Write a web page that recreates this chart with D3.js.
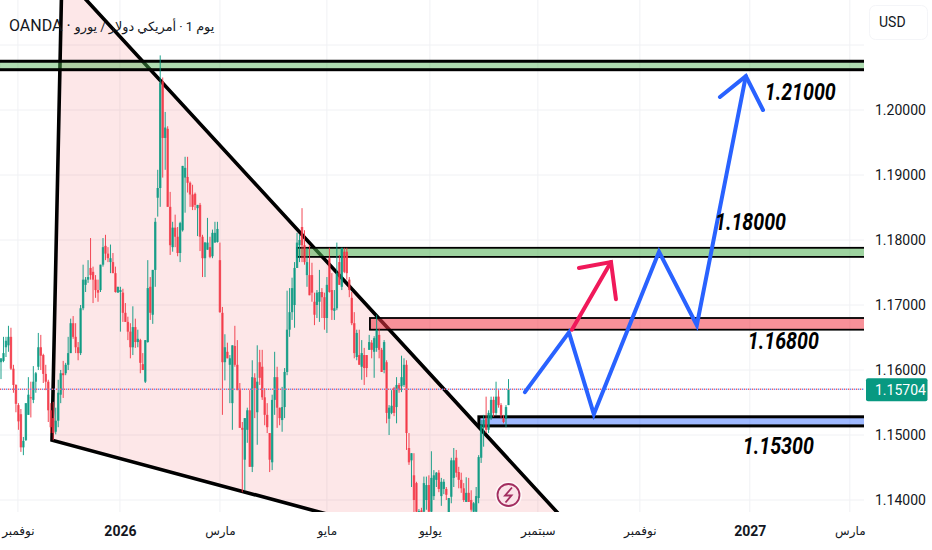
<!DOCTYPE html>
<html>
<head>
<meta charset="utf-8">
<script src="https://cdn.jsdelivr.net/npm/d3@7"></script>
<style>
body { margin: 0; background: #fff; }
text { font-family: Roboto, "DejaVu Sans", sans-serif; }
</style>
</head>
<body>
<svg id="chart" width="932" height="550"></svg>
<script>
// daily candles
let opens = [1.1612,1.1614,1.1635,1.1638,1.1651,1.1602,1.1577,1.1546,1.1532,1.1481,
1.1492,1.1531,1.1558,1.1554,1.1582,1.1605,1.1635,1.1623,1.1594,1.1582,
1.1538,1.1526,1.1505,1.1522,1.1562,1.1595,1.1595,1.1608,1.1626,1.1672,
1.1651,1.1635,1.1626,1.1695,1.1731,1.1739,1.1757,1.1751,1.1739,1.1723,
1.1723,1.1762,1.1791,1.1779,1.1766,1.1766,1.1749,1.1719,1.1720,1.1719,
1.1688,1.1674,1.1659,1.1635,1.1666,1.1643,1.1646,1.1609,1.1582,1.1643,
1.1728,1.1685,1.1754,1.1865,1.1880,1.2044,1.1957,1.1971,1.1851,1.1789,
1.1819,1.1805,1.1780,1.1815,1.1896,1.1897,1.1888,1.1870,1.1871,1.1849,
1.1854,1.1805,1.1772,1.1785,1.1789,1.1775,1.1796,1.1797,1.1769,1.1688,
1.1612,1.1628,1.1608,1.1549,1.1637,1.1608,1.1569,1.1511,1.1462,1.1508,
1.1538,1.1451,1.1588,1.1535,1.1612,1.1605,1.1558,1.1531,1.1503,1.1458,
1.1554,1.1589,1.1542,1.1523,1.1543,1.1597,1.1662,1.1689,1.1700,1.1757,
1.1792,1.1820,1.1792,1.1746,1.1746,1.1746,1.1705,1.1700,1.1705,1.1720,
1.1712,1.1680,1.1772,1.1723,1.1691,1.1695,1.1766,1.1728,1.1782,1.1782,
1.1739,1.1711,1.1672,1.1620,1.1623,1.1605,1.1623,1.1623,1.1631,1.1642,
1.1628,1.1634,1.1654,1.1631,1.1600,1.1612,1.1525,1.1534,1.1572,1.1543,
1.1577,1.1575,1.1577,1.1608,1.1480,1.1461,1.1438,1.1426,1.1380,1.1384,
1.1382,1.1400,1.1423,1.1382,1.1406,1.1431,1.1442,1.1406,1.1417,1.1417,
1.1377,1.1405,1.1434,1.1465,1.1443,1.1431,1.1418,1.1397,1.1411,1.1400,
1.1382,1.1382,1.1403,1.1465,1.1512,1.1526,1.1508,1.1526,1.1554,1.1534,
1.1559,1.1546,1.1526,1.1525,1.1546]
let highs = [1.1618,1.1651,1.1651,1.1668,1.1665,1.1608,1.1578,1.1549,1.1540,1.1497,
1.1549,1.1589,1.1582,1.1606,1.1597,1.1657,1.1654,1.1625,1.1608,1.1585,
1.1549,1.1551,1.1542,1.1585,1.1600,1.1614,1.1611,1.1651,1.1679,1.1683,
1.1672,1.1643,1.1700,1.1762,1.1743,1.1769,1.1803,1.1759,1.1746,1.1739,
1.1762,1.1803,1.1808,1.1789,1.1793,1.1780,1.1759,1.1728,1.1728,1.1725,
1.1703,1.1682,1.1672,1.1698,1.1679,1.1662,1.1648,1.1626,1.1646,1.1769,
1.1743,1.1754,1.1834,1.1908,1.2084,1.2050,1.1997,1.1975,1.1874,1.1828,
1.1839,1.1820,1.1828,1.1914,1.1928,1.1928,1.1890,1.1885,1.1873,1.1854,
1.1857,1.1808,1.1797,1.1834,1.1805,1.1816,1.1828,1.1828,1.1796,1.1697,
1.1655,1.1642,1.1623,1.1638,1.1668,1.1646,1.1580,1.1520,1.1526,1.1542,
1.1569,1.1615,1.1595,1.1638,1.1631,1.1631,1.1572,1.1549,1.1503,1.1562,
1.1628,1.1605,1.1542,1.1574,1.1603,1.1722,1.1726,1.1742,1.1766,1.1811,
1.1808,1.1849,1.1815,1.1788,1.1792,1.1765,1.1719,1.1723,1.1754,1.1726,
1.1719,1.1743,1.1788,1.1749,1.1723,1.1796,1.1777,1.1788,1.1788,1.1788,
1.1743,1.1720,1.1689,1.1662,1.1662,1.1646,1.1634,1.1623,1.1654,1.1646,
1.1652,1.1685,1.1665,1.1634,1.1646,1.1615,1.1546,1.1569,1.1574,1.1589,
1.1580,1.1622,1.1618,1.1615,1.1503,1.1472,1.1472,1.1428,1.1386,1.1388,
1.1436,1.1436,1.1438,1.1475,1.1446,1.1443,1.1446,1.1434,1.1432,1.1420,
1.1403,1.1465,1.1480,1.1477,1.1451,1.1442,1.1426,1.1435,1.1434,1.1415,
1.1397,1.1420,1.1469,1.1523,1.1531,1.1559,1.1538,1.1559,1.1559,1.1582,
1.1569,1.1549,1.1531,1.1546,1.1586]
let lows = [1.1586,1.1612,1.1620,1.1628,1.1600,1.1565,1.1535,1.1508,1.1474,1.1469,
1.1491,1.1531,1.1527,1.1549,1.1565,1.1600,1.1600,1.1580,1.1569,1.1520,
1.1503,1.1492,1.1501,1.1512,1.1549,1.1557,1.1592,1.1600,1.1626,1.1648,
1.1626,1.1615,1.1623,1.1692,1.1720,1.1734,1.1739,1.1703,1.1711,1.1705,
1.1720,1.1759,1.1769,1.1766,1.1749,1.1749,1.1719,1.1719,1.1659,1.1674,
1.1674,1.1646,1.1618,1.1623,1.1634,1.1635,1.1595,1.1600,1.1580,1.1642,
1.1677,1.1671,1.1728,1.1836,1.1851,1.1896,1.1908,1.1851,1.1777,1.1782,
1.1789,1.1775,1.1766,1.1813,1.1842,1.1873,1.1851,1.1846,1.1846,1.1806,
1.1783,1.1743,1.1743,1.1785,1.1772,1.1772,1.1796,1.1796,1.1688,1.1531,
1.1584,1.1618,1.1549,1.1508,1.1605,1.1569,1.1511,1.1412,1.1415,1.1488,
1.1451,1.1443,1.1526,1.1485,1.1577,1.1554,1.1515,1.1503,1.1443,1.1446,
1.1531,1.1511,1.1515,1.1505,1.1526,1.1592,1.1651,1.1677,1.1665,1.1757,
1.1766,1.1766,1.1762,1.1728,1.1715,1.1705,1.1669,1.1680,1.1674,1.1680,
1.1662,1.1657,1.1719,1.1677,1.1677,1.1692,1.1731,1.1723,1.1749,1.1739,
1.1712,1.1669,1.1618,1.1615,1.1608,1.1585,1.1577,1.1589,1.1631,1.1618,
1.1588,1.1628,1.1618,1.1597,1.1595,1.1518,1.1500,1.1532,1.1529,1.1518,
1.1565,1.1566,1.1574,1.1477,1.1454,1.1420,1.1380,1.1377,1.1377,1.1377,
1.1377,1.1385,1.1377,1.1377,1.1400,1.1420,1.1412,1.1391,1.1409,1.1400,
1.1377,1.1395,1.1420,1.1435,1.1418,1.1411,1.1397,1.1397,1.1397,1.1382,
1.1377,1.1377,1.1395,1.1457,1.1482,1.1503,1.1503,1.1523,1.1528,1.1531,
1.1542,1.1526,1.1518,1.1512,1.1546]
let closes = [1.1618,1.1626,1.1645,1.1651,1.1602,1.1577,1.1548,1.1521,1.1481,1.1491,
1.1549,1.1562,1.1557,1.1582,1.1595,1.1635,1.1622,1.1594,1.1582,1.1538,
1.1512,1.1503,1.1522,1.1565,1.1595,1.1592,1.1608,1.1626,1.1672,1.1651,
1.1635,1.1626,1.1695,1.1739,1.1739,1.1743,1.1746,1.1739,1.1723,1.1719,
1.1762,1.1789,1.1779,1.1772,1.1772,1.1749,1.1720,1.1728,1.1723,1.1688,
1.1674,1.1659,1.1635,1.1666,1.1643,1.1648,1.1611,1.1600,1.1646,1.1726,
1.1688,1.1754,1.1828,1.1880,1.2042,1.1957,1.1973,1.1851,1.1792,1.1819,
1.1805,1.1780,1.1826,1.1914,1.1911,1.1888,1.1870,1.1851,1.1854,1.1854,
1.1805,1.1772,1.1796,1.1796,1.1774,1.1811,1.1811,1.1817,1.1689,1.1612,
1.1635,1.1618,1.1618,1.1638,1.1608,1.1569,1.1511,1.1508,1.1526,1.1538,
1.1451,1.1589,1.1572,1.1582,1.1588,1.1558,1.1531,1.1512,1.1462,1.1554,
1.1589,1.1542,1.1526,1.1543,1.1597,1.1662,1.1689,1.1726,1.1757,1.1796,
1.1800,1.1792,1.1766,1.1766,1.1715,1.1719,1.1685,1.1719,1.1720,1.1712,
1.1680,1.1731,1.1720,1.1692,1.1695,1.1749,1.1731,1.1788,1.1751,1.1749,
1.1723,1.1672,1.1626,1.1657,1.1608,1.1626,1.1603,1.1603,1.1643,1.1631,
1.1649,1.1662,1.1631,1.1597,1.1643,1.1534,1.1542,1.1545,1.1534,1.1577,
1.1569,1.1589,1.1608,1.1503,1.1458,1.1472,1.1400,1.1382,1.1383,1.1380,
1.1426,1.1423,1.1382,1.1434,1.1438,1.1442,1.1417,1.1428,1.1428,1.1408,
1.1403,1.1461,1.1461,1.1442,1.1431,1.1418,1.1400,1.1411,1.1397,1.1385,
1.1395,1.1406,1.1466,1.1515,1.1523,1.1508,1.1534,1.1554,1.1534,1.1559,
1.1546,1.1531,1.1520,1.1543,1.15704]

// axis labels
let priceTicks = [1.14, 1.15, 1.16, 1.17, 1.18, 1.19, 1.20]
let gridPrices = [1.14, 1.15, 1.16, 1.17, 1.18, 1.19, 1.20, 1.21]
let timeTickBars = [6.8, 47.8, 88, 131, 172.4, 215.8, 256.8, 301, 341.2]
let timeTickLabels = ['نوفمبر', '2026', 'مارس', 'مايو', 'يوليو', 'سبتمبر', 'نوفمبر', '2027', 'مارس']
let lastPrice = 1.15704

// drawings, as bar index and price
let triangleBars = [20.5, 24.5, 254.8]
let trianglePrices = [1.1492, 1.2210, 1.1251]
let zoneStarts = [-1, 119, 148.3, 192.1]
let zoneTops = [1.2075, 1.1788, 1.1680, 1.1528]
let zoneBottoms = [1.2062, 1.1774, 1.1662, 1.1514]
let zoneFills = ['rgba(76,175,80,0.45)', 'rgba(76,175,80,0.55)', 'rgba(242,54,69,0.55)', 'rgba(41,98,255,0.45)']
let zoneStrokes = [3, 1.8, 1.8, 3]
let bluePathBars = [210.6, 228.3, 238.3, 264.5, 279.7, 299.4]
let bluePathPrices = [1.1566, 1.1658, 1.1532, 1.1782, 1.1669, 1.2052]
let blueHeadBars = [289, 299.4, 306.3]
let blueHeadPrices = [1.2020, 1.2052, 1.2000]
let redPathBars = [229.5, 245.2]
let redPathPrices = [1.1662, 1.1766]
let redHeadBars = [232.3, 245.2, 247.2]
let redHeadPrices = [1.1757, 1.1766, 1.1709]
let noteTexts = ['1.21000', '1.18000', '1.16800', '1.15300']
let noteBars = [307, 287, 300.2, 298.2]
let notePrices = [1.2015, 1.1815, 1.1632, 1.1471]

let plotRight = 864
let plotBottom = 512
let green = '#089981'
let red = '#f23645'

let chart = d3.select('#chart')
let xScale = d3.scaleLinear().domain([0, 346.9]).range([1, plotRight])
let yScale = d3.scaleLinear().domain([1.14, 1.20]).range([500, 110])

chart.append('defs').append('clipPath').attr('id', 'plot-clip')
    .append('rect').attr('x', 0).attr('y', 0).attr('width', plotRight).attr('height', plotBottom)

// grid
let grid = chart.append('g')
grid.selectAll('line.h').data(gridPrices).join('line').attr('class', 'h')
    .attr('x1', 0).attr('x2', plotRight)
    .attr('y1', d => yScale(d)).attr('y2', d => yScale(d))
    .attr('stroke', '#f0f1f4')
grid.selectAll('line.v').data(timeTickBars).join('line').attr('class', 'v')
    .attr('x1', d => xScale(d)).attr('x2', d => xScale(d))
    .attr('y1', 0).attr('y2', plotBottom)
    .attr('stroke', '#f0f1f4')

let plot = chart.append('g').attr('clip-path', 'url(#plot-clip)')

// triangle
let trianglePoints = triangleBars.map((b, i) => [xScale(b), yScale(trianglePrices[i])])
plot.append('path')
    .attr('d', d3.line()(trianglePoints) + 'Z')
    .attr('fill', 'rgba(242,54,69,0.12)')
    .attr('stroke', '#000')
    .attr('stroke-width', 3.6)
    .attr('stroke-linejoin', 'miter')

// zones
plot.selectAll('rect.zone').data(zoneStarts).join('rect').attr('class', 'zone')
    .attr('x', d => xScale(d))
    .attr('y', (d, i) => yScale(zoneTops[i]))
    .attr('width', d => plotRight + 5 - xScale(d))
    .attr('height', (d, i) => yScale(zoneBottoms[i]) - yScale(zoneTops[i]))
    .attr('fill', (d, i) => zoneFills[i])
    .attr('stroke', '#000')
    .attr('stroke-width', (d, i) => zoneStrokes[i])

// candles
let candleColor = i => closes[i] >= opens[i] ? green : red
plot.selectAll('line.wick').data(opens).join('line').attr('class', 'wick')
    .attr('x1', (d, i) => xScale(i)).attr('x2', (d, i) => xScale(i))
    .attr('y1', (d, i) => yScale(highs[i])).attr('y2', (d, i) => yScale(lows[i]))
    .attr('stroke', (d, i) => candleColor(i))
    .attr('stroke-width', 1)
    .attr('opacity', 0.9)
plot.selectAll('rect.body').data(opens).join('rect').attr('class', 'body')
    .attr('x', (d, i) => xScale(i) - 1.2)
    .attr('y', (d, i) => yScale(Math.max(opens[i], closes[i])))
    .attr('width', 2.4)
    .attr('height', (d, i) => Math.max(1, Math.abs(yScale(opens[i]) - yScale(closes[i]))))
    .attr('fill', (d, i) => candleColor(i))
    .attr('opacity', 0.8)

// last price line
let lastY = yScale(lastPrice)
plot.append('line').attr('x1', 0).attr('x2', plotRight).attr('y1', lastY).attr('y2', lastY)
    .attr('stroke', '#ee5a68').attr('stroke-width', 1.4).attr('stroke-dasharray', '1.3 2.7')
plot.append('line').attr('x1', 2).attr('x2', plotRight).attr('y1', lastY).attr('y2', lastY)
    .attr('stroke', '#6d8ceb').attr('stroke-width', 1.4).attr('stroke-dasharray', '1.3 2.7')

// arrows
let polyline = (bars, prices, color) => {
    plot.append('path')
        .attr('d', d3.line()(bars.map((b, i) => [xScale(b), yScale(prices[i])])))
        .attr('fill', 'none')
        .attr('stroke', color)
        .attr('stroke-width', 4)
        .attr('stroke-linecap', 'round')
        .attr('stroke-linejoin', 'miter')
}
polyline(bluePathBars, bluePathPrices, '#2962ff')
polyline(blueHeadBars, blueHeadPrices, '#2962ff')
polyline(redPathBars, redPathPrices, '#f0195a')
polyline(redHeadBars, redHeadPrices, '#f0195a')

// price notes
plot.selectAll('text.note').data(noteTexts).join('text').attr('class', 'note')
    .text(d => d)
    .attr('x', (d, i) => xScale(noteBars[i]))
    .attr('y', (d, i) => yScale(notePrices[i]))
    .attr('font-size', 24)
    .attr('font-weight', 700)
    .attr('font-style', 'italic')
    .attr('fill', '#000')
    .attr('textLength', 71)
    .attr('lengthAdjust', 'spacingAndGlyphs')

// lightning badge
let badge = chart.append('g').attr('transform', 'translate(508.5,495)')
badge.append('circle').attr('r', 13.5).attr('fill', '#fff').attr('opacity', 0.7)
badge.append('circle').attr('r', 11).attr('fill', '#fbe3e8').attr('stroke', '#a22d5f').attr('stroke-width', 1.8)
badge.append('path').attr('d', 'M3.5 -7.5L-3.5 0.5H3L-3 7.5')
    .attr('fill', 'none').attr('stroke', '#a22d5f').attr('stroke-width', 1.8)

// title
let title = chart.append('text')
    .attr('x', 9).attr('y', 31)
    .attr('direction', 'ltr')
    .attr('fill', '#131722')
title.append('tspan').attr('font-size', 16).text('OANDA · ')
title.append('tspan').attr('font-size', 12.8)
    .text('يورو\u200E / \u200Eدولار\u200E \u200Eأمريكي\u200E · 1\u200E يوم')

// price axis
let yAxis = d3.axisRight(yScale).tickValues(priceTicks).tickSize(0).tickPadding(0)
    .tickFormat(d3.format('.5f'))
let yAxisG = chart.append('g').attr('transform', `translate(875,0)`).call(yAxis)
yAxisG.select('.domain').remove()
yAxisG.selectAll('text').attr('font-size', 14).attr('fill', '#131722')
    .style('font-family', 'Roboto')

// time axis
let xAxis = d3.axisBottom(xScale).tickValues(timeTickBars).tickSize(0).tickPadding(14)
    .tickFormat((d, i) => timeTickLabels[i])
let xAxisG = chart.append('g').attr('transform', `translate(0,${plotBottom})`).call(xAxis)
xAxisG.select('.domain').remove()
xAxisG.selectAll('text')
    .attr('font-size', (d, i) => /^\d+$/.test(timeTickLabels[i]) ? 14 : 12)
    .attr('font-weight', (d, i) => /^\d+$/.test(timeTickLabels[i]) ? 700 : 400)
    .attr('fill', '#131722')
    .style('font-family', '"Roboto", "DejaVu Sans"')

// currency box
chart.append('rect').attr('x', 869.5).attr('y', 5.5).attr('width', 58).attr('height', 34).attr('rx', 6)
    .attr('fill', '#fff').attr('stroke', '#f4f5f8')
chart.append('text').text('USD').attr('x', 879).attr('y', 27).attr('font-size', 14).attr('fill', '#131722')

// last price label
chart.append('rect').attr('x', 866).attr('y', lastY - 11).attr('width', 61.5).attr('height', 23).attr('rx', 2)
    .attr('fill', green)
chart.append('text').text(d3.format('.5f')(lastPrice)).attr('x', 875).attr('y', lastY + 5.5)
    .attr('font-size', 14).attr('fill', '#fff')
</script>
</body>
</html>
